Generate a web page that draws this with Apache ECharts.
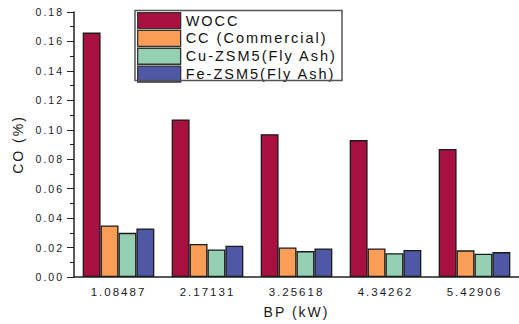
<!DOCTYPE html>
<html><head><meta charset="utf-8">
<script src="https://cdn.jsdelivr.net/npm/echarts@6/dist/echarts.min.js"></script>
<style>
html,body{margin:0;padding:0;background:#fff;}
#c{width:519px;height:324px;}
#c text{letter-spacing:2px;}
</style></head>
<body><div id="c"></div>
<script>
const categories = ['1.08487','2.17131','3.25618','4.34262','5.42906'];
const seriesNames = ['WOCC','CC (Commercial)','Cu-ZSM5(Fly Ash)','Fe-ZSM5(Fly Ash)'];
const wocc = [0.166, 0.107, 0.097, 0.093, 0.087];
const cc   = [0.035, 0.0225, 0.020, 0.0194, 0.0181];
const cu   = [0.030, 0.0187, 0.0176, 0.0162, 0.0158];
const fe   = [0.033, 0.0212, 0.0194, 0.0183, 0.0169];
const yTicks = [0, 0.02, 0.04, 0.06, 0.08, 0.10, 0.12, 0.14, 0.16, 0.18];

const colors = ['#A8103F','#F99D57','#95D0B2','#4E58A4'];
const values = [wocc, cc, cu, fe];
const font = "'Liberation Sans', Arial, sans-serif";
const chart = echarts.init(document.getElementById('c'), null, {renderer:'svg'});
chart.setOption({
  animation:false,
  grid:{left:74,right:0,top:12,bottom:46},
  legend:{
    orient:'vertical', left:137, top:12, padding:0, itemWidth:43, itemHeight:16, itemGap:0.5,
    icon:'rect',
    data:seriesNames,
    textStyle:{fontFamily:font,fontSize:14.5,color:'#111',lineHeight:14,padding:0},
    itemStyle:{borderColor:'#333',borderWidth:1.3}
  },
  graphic:[{type:'rect',shape:{x:135,y:10.5,width:207,height:70},
    style:{fill:'none',stroke:'#555',lineWidth:1.5},z:100}],
  xAxis:[{
    type:'category', data:categories,
    name:'BP (kW)', nameLocation:'middle', nameGap:28,
    nameTextStyle:{fontFamily:font,fontSize:14,color:'#1a1a1a'},
    axisLine:{lineStyle:{color:'#222',width:1.5}},
    axisTick:{alignWithLabel:true,length:3,lineStyle:{color:'#222'}},
    axisLabel:{fontFamily:font,fontSize:11.5,color:'#1a1a2a',margin:9}
  },{
    type:'category', data:categories, position:'bottom',
    axisLine:{show:false}, axisLabel:{show:false},
    axisTick:{length:2,lineStyle:{color:'#222'}}
  }],
  yAxis:{
    type:'value', min:yTicks[0], max:yTicks[yTicks.length-1], interval:0.02,
    name:'CO (%)', nameLocation:'middle', nameGap:49,
    nameTextStyle:{fontFamily:font,fontSize:14,color:'#1a1a1a'},
    axisLine:{show:true,lineStyle:{color:'#222',width:1.5}},
    axisTick:{show:true,length:7,lineStyle:{color:'#222'}},
    minorTick:{show:true,splitNumber:2,length:4,lineStyle:{color:'#222'}},
    splitLine:{show:false},
    axisLabel:{fontFamily:font,fontSize:10.5,color:'#1a1a2a',margin:10,
      formatter:v=>v.toFixed(2)}
  },
  series: seriesNames.map((n,i)=>({
    name:n, type:'bar', data:values[i], xAxisIndex:0,
    barGap:'0%', barCategoryGap:'19.5%',
    itemStyle:{color:colors[i],borderColor:'#1a1a1a',borderWidth:1.3}
  }))
});
</script></body></html>
